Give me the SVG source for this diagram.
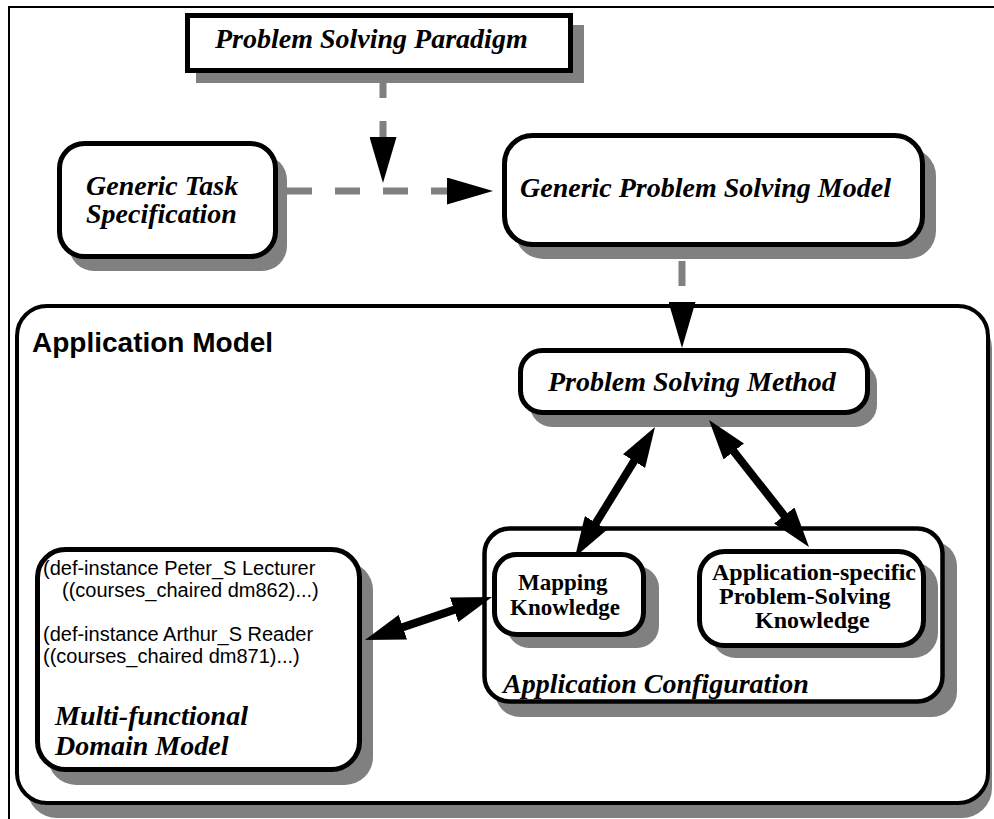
<svg xmlns="http://www.w3.org/2000/svg" width="994" height="819" viewBox="0 0 994 819">
<defs>
<style>
.box{fill:#fff;stroke:#000;stroke-width:5}
.shadow{fill:#808080}
.title{font-family:"Liberation Serif","Times New Roman",serif;font-weight:bold;font-style:italic;font-size:28px;fill:#000}
.label{font-family:"Liberation Serif","Times New Roman",serif;font-weight:bold;font-size:24px;fill:#000}
.code{font-family:"Liberation Sans",Arial,sans-serif;font-size:20px;fill:#000}
.head{font-family:"Liberation Sans",Arial,sans-serif;font-weight:bold;font-size:28px;fill:#000}
.dash{stroke:#808080;stroke-width:7;stroke-dasharray:25 23;fill:none}
.thick{stroke:#000;stroke-width:8;fill:none}
</style>
<marker id="dhead" markerUnits="userSpaceOnUse" markerWidth="46" markerHeight="27" viewBox="0 0 46 27" refX="6" refY="13.5" orient="auto">
<path d="M0,0 L46,13.5 L0,27 z" fill="#000"/>
</marker>
<marker id="thead" markerUnits="userSpaceOnUse" markerWidth="40" markerHeight="26" viewBox="0 0 40 26" refX="10" refY="13" orient="auto-start-reverse">
<path d="M0,0 L40,13 L0,26 z" fill="#000"/>
</marker>
</defs>
<rect width="994" height="819" fill="#fff"/>
<rect x="9" y="7" width="1100" height="1100" fill="none" stroke="#000" stroke-width="2"/>

<g id="paradigm">
<rect class="shadow" x="196" y="25" width="388" height="58"/>
<rect class="box" x="187.5" y="15.5" width="383" height="55"/>
<text class="title" x="215" y="48">Problem Solving Paradigm</text>
</g>

<g id="generic-task">
<rect class="shadow" x="69" y="155" width="218" height="116" rx="25"/>
<rect class="box" x="59.5" y="143.5" width="216" height="113" rx="25"/>
<text class="title" x="86" y="195">Generic Task</text>
<text class="title" x="86" y="223">Specification</text>
</g>

<g id="generic-psm">
<rect class="shadow" x="515" y="148" width="421" height="111" rx="28"/>
<rect class="box" x="504.5" y="135.5" width="418" height="109" rx="28"/>
<text class="title" x="520" y="197">Generic Problem Solving Model</text>
</g>

<g id="application-model">
<rect class="shadow" x="27" y="318" width="965" height="500" rx="30"/>
<rect class="box" style="stroke-width:4" x="17" y="306" width="971" height="497" rx="30"/>
<text class="head" x="32" y="352">Application Model</text>
</g>

<g id="psm">
<rect class="shadow" x="530" y="362" width="347" height="65" rx="22"/>
<rect class="box" x="520.5" y="350.5" width="347" height="62" rx="22"/>
<text class="title" x="548" y="391">Problem Solving Method</text>
</g>

<g id="app-config">
<rect class="shadow" x="495" y="541" width="462" height="176" rx="25"/>
<rect class="box" style="stroke-width:4.5" x="484.5" y="528.5" width="458" height="173" rx="25"/>
<text class="title" x="503" y="693">Application Configuration</text>
</g>

<g id="mapping">
<rect class="shadow" x="507" y="566" width="152" height="82" rx="22"/>
<rect class="box" x="494.5" y="554.5" width="149" height="80" rx="22"/>
<text class="label" style="font-size:23px" x="518" y="590">Mapping</text>
<text class="label" style="font-size:23px" x="510" y="615">Knowledge</text>
</g>

<g id="app-specific">
<rect class="shadow" x="711" y="562" width="227" height="96" rx="25"/>
<rect class="box" x="699.5" y="551.5" width="224" height="94" rx="25"/>
<text class="label" x="712" y="580">Application-specific</text>
<text class="label" x="719" y="604">Problem-Solving</text>
<text class="label" x="755" y="628">Knowledge</text>
</g>

<g id="domain-model">
<rect class="shadow" x="48" y="562" width="325" height="223" rx="28"/>
<rect class="box" x="37.5" y="549.5" width="322" height="220" rx="28"/>
<text class="code" x="43" y="575">(def-instance Peter_S Lecturer</text>
<text class="code" x="62" y="597">((courses_chaired dm862)...)</text>
<text class="code" x="43" y="641">(def-instance Arthur_S Reader</text>
<text class="code" x="43" y="663">((courses_chaired dm871)...)</text>
<text class="title" x="55" y="725">Multi-functional</text>
<text class="title" x="55" y="755">Domain Model</text>
</g>

<g id="connectors">
<line class="dash" x1="383" y1="73" x2="383" y2="143" marker-end="url(#dhead)"/>
<line class="dash" x1="287" y1="191" x2="453" y2="191" marker-end="url(#dhead)"/>
<line class="dash" x1="682" y1="261" x2="682" y2="308" marker-end="url(#dhead)"/>
<line class="thick" x1="639.28" y1="452.56" x2="590.72" y2="531.44" marker-start="url(#thead)" marker-end="url(#thead)"/>
<line class="thick" x1="727.56" y1="443.58" x2="790.44" y2="523.42" marker-start="url(#thead)" marker-end="url(#thead)"/>
<line class="thick" x1="393.41" y1="630.38" x2="463.59" y2="606.62" marker-start="url(#thead)" marker-end="url(#thead)"/>
</g>
</svg>
